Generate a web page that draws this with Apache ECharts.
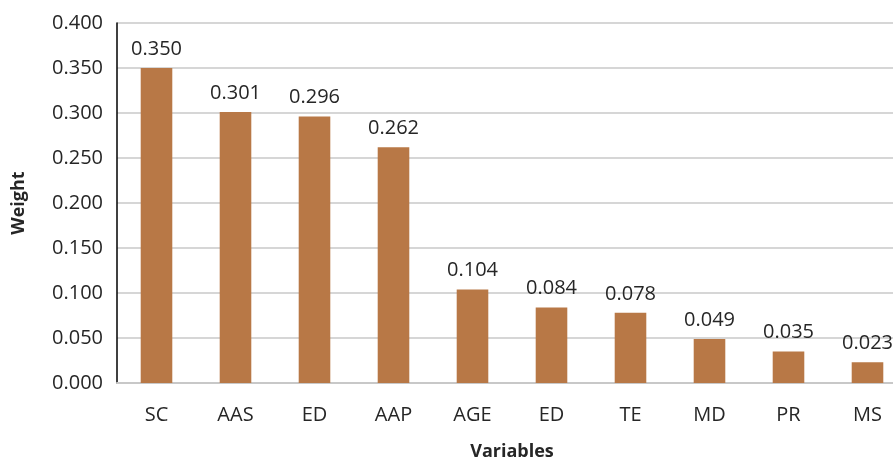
<!DOCTYPE html>
<html>
<head>
<meta charset="utf-8">
<script src="https://cdn.jsdelivr.net/npm/echarts@6/dist/echarts.min.js"></script>
<style>
  html, body { margin: 0; padding: 0; background: #fff; }
  #chart { width: 893px; height: 459px; }
</style>
</head>
<body>
<div id="chart"></div>
<script>
var categories = ['SC', 'AAS', 'ED', 'AAP', 'AGE', 'ED', 'TE', 'MD', 'PR', 'MS'];
var weights = [0.350, 0.301, 0.296, 0.262, 0.104, 0.084, 0.078, 0.049, 0.035, 0.023];

var font = '"Open Sans", "Noto Sans", sans-serif';
var chart = echarts.init(document.getElementById('chart'));
chart.setOption({
  animation: false,
  grid: { left: 117, right: -14, top: 23, bottom: 76, containLabel: false, outerBoundsMode: 'none' },
  xAxis: {
    type: 'category',
    data: categories,
    name: 'Variables',
    nameLocation: 'middle',
    nameGap: 60,
    nameMoveOverlap: false,
    nameTextStyle: { fontFamily: font, fontSize: 18, fontWeight: 'bold', color: '#262626' },
    axisLine: { lineStyle: { color: '#c8c8c8', width: 2 } },
    axisTick: { show: false },
    axisLabel: { fontFamily: font, fontSize: 20, color: '#262626', margin: 22 }
  },
  yAxis: {
    type: 'value',
    min: 0,
    max: 0.4,
    interval: 0.05,
    name: 'Weight',
    nameLocation: 'middle',
    nameGap: 89,
    nameMoveOverlap: false,
    nameTextStyle: { fontFamily: font, fontSize: 18, fontWeight: 'bold', color: '#262626' },
    axisLine: { show: true, lineStyle: { color: '#000', width: 1.5 } },
    axisTick: { show: false },
    axisLabel: {
      fontFamily: font, fontSize: 20, color: '#262626', margin: 14,
      formatter: function (v) { return v.toFixed(3); }
    },
    splitLine: { lineStyle: { color: '#c8c8c8', width: 1.5 } }
  },
  series: [{
    type: 'bar',
    data: weights,
    barWidth: '40%',
    itemStyle: { color: '#B87846' },
    label: {
      show: true,
      position: 'top',
      distance: 9,
      fontFamily: font,
      fontSize: 20,
      color: '#262626',
      formatter: function (p) { return p.value.toFixed(3); }
    }
  }]
});
</script>
</body>
</html>
